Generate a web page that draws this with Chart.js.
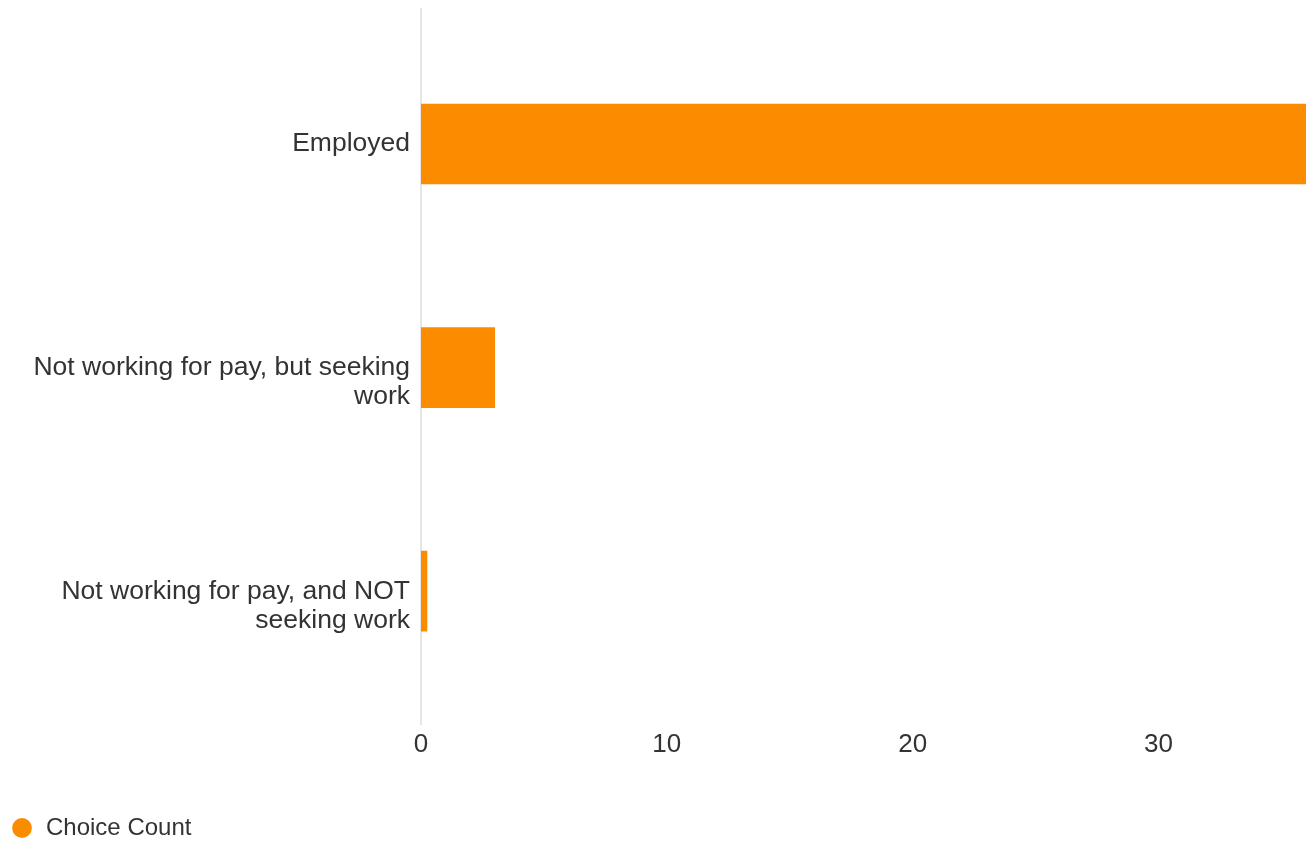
<!DOCTYPE html>
<html>
<head>
<meta charset="utf-8">
<script src="https://cdn.jsdelivr.net/npm/chart.js@4"></script>
<style>
  html, body { margin: 0; padding: 0; background: #fff; }
  #wrap { width: 1310px; height: 846px; }
</style>
</head>
<body>
<div id="wrap"><canvas id="empChart"></canvas></div>
<script>
// categorias (con salto de linea) y conteos
const categorias = [
    'Employed',
    ['Not working for pay, but seeking', 'work'],
    ['Not working for pay, and NOT', 'seeking work']
];
const conteos = [36, 3, 0];
const serie = 'Choice Count';
const marcasX = [0, 10, 20, 30];

const naranja = '#fb8c00';
const texto = '#333333';
const tamEtiqueta = 26.5;
const altoLinea = 1.1;

// linea vertical del cero, un poco mas larga que el area del grafico
const lineaCero = {
    id: 'lineaCero',
    beforeDatasetsDraw(chart) {
        const x = Math.round(chart.scales.x.getPixelForValue(0));
        const ctx = chart.ctx;
        ctx.save();
        ctx.strokeStyle = '#e6e6e6';
        ctx.lineWidth = 2;
        ctx.beginPath();
        ctx.moveTo(x, 8);
        ctx.lineTo(x, 725);
        ctx.stroke();
        ctx.restore();
    }
};

Chart.defaults.font.family = '"Liberation Sans", Arial, sans-serif';
Chart.defaults.color = texto;

const ctx = document.getElementById('empChart').getContext('2d');
new Chart(ctx, {
    type: 'bar',
    data: {
        labels: categorias,
        datasets: [{
            label: serie,
            data: conteos,
            backgroundColor: naranja,
            borderWidth: 0,
            barThickness: 80,
            minBarLength: 6
        }]
    },
    options: {
        indexAxis: 'y',
        responsive: true,
        maintainAspectRatio: false,
        animation: false,
        layout: { padding: { top: 26, right: 4, left: 4, bottom: -4 } },
        scales: {
            x: {
                min: 0,
                max: 36,
                grid: { display: false },
                border: { display: false },
                afterBuildTicks: function(scale) {
                    scale.ticks = marcasX.map(v => ({ value: v }));
                },
                afterFit: function(scale) {
                    scale.height = 107;
                },
                ticks: {
                    padding: 20.5,
                    font: { size: 26, lineHeight: 1 },
                    color: texto
                }
            },
            y: {
                grid: { display: false },
                border: { display: false },
                afterFit: function(scale) {
                    scale.width = 417;
                },
                ticks: {
                    padding: 3,
                    // la primera linea de cada etiqueta queda a la altura de la barra
                    labelOffset: tamEtiqueta * altoLinea / 2,
                    callback: function(value) {
                        const l = this.getLabelForValue(value);
                        return Array.isArray(l) ? l : [l, ''];
                    },
                    font: { size: tamEtiqueta, lineHeight: altoLinea },
                    color: texto
                }
            }
        },
        plugins: {
            legend: {
                position: 'bottom',
                align: 'start',
                labels: {
                    usePointStyle: true,
                    pointStyle: 'circle',
                    boxWidth: 24,
                    boxHeight: 14,
                    padding: 6,
                    font: { size: 24 },
                    color: texto
                }
            },
            tooltip: { enabled: false }
        }
    },
    plugins: [lineaCero]
});
</script>
</body>
</html>
